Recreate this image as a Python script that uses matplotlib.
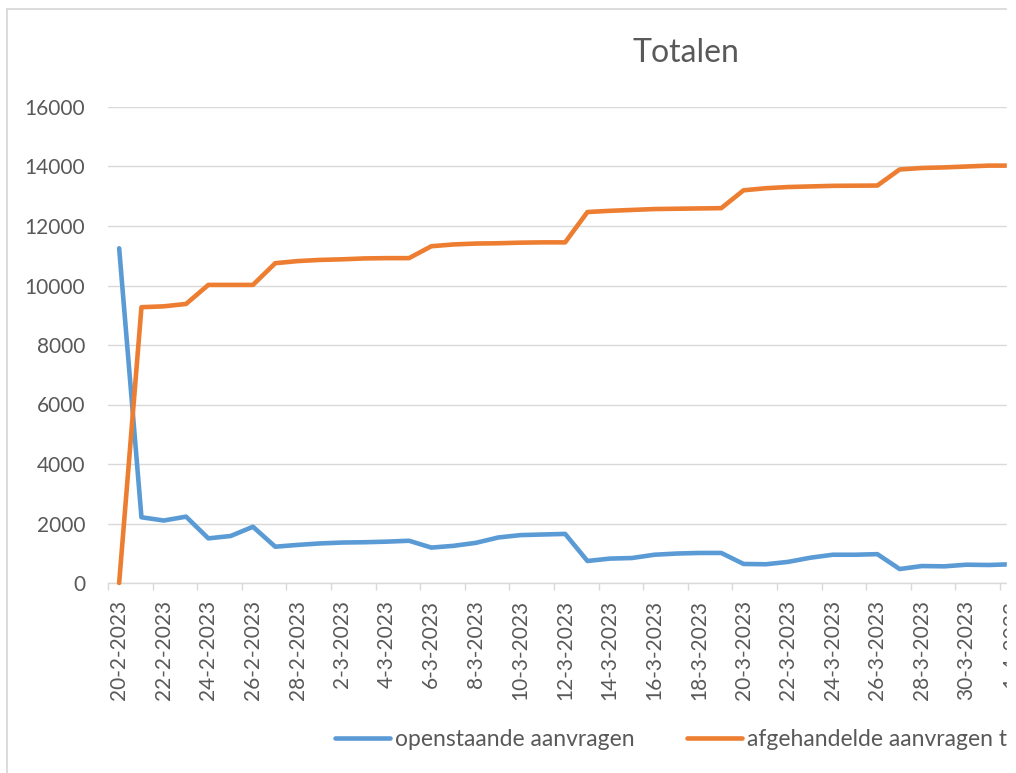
import matplotlib
matplotlib.use("Agg")
import matplotlib.pyplot as plt
import pandas as pd
from matplotlib.lines import Line2D
from matplotlib.patches import Rectangle

plt.rcParams["font.family"] = ["Lato", "DejaVu Sans"]

# categories: one per day
dates = pd.date_range("2023-02-20", "2023-04-01", freq="D")
date_labels = [f"{d.day}-{d.month}-{d.year}" for d in dates]

openstaand = [11250, 2210, 2100, 2230, 1500, 1580, 1890, 1220, 1280, 1330,
              1360, 1370, 1390, 1420, 1190, 1250, 1350, 1530, 1610, 1630,
              1650, 740, 820, 840, 950, 990, 1010, 1010, 640, 630,
              710, 850, 950, 950, 970, 470, 570, 560, 615, 605,
              630]
afgehandeld = [0, 9270, 9300, 9380, 10020, 10020, 10020, 10750, 10820, 10860,
               10880, 10910, 10920, 10920, 11320, 11380, 11410, 11420, 11440, 11450,
               11450, 12470, 12510, 12540, 12570, 12580, 12590, 12600, 13200, 13270,
               13310, 13330, 13350, 13355, 13360, 13900, 13950, 13970, 14000, 14030,
               14030]

series_names = ["openstaande aanvragen", "afgehandelde aanvragen totaal"]
y_ticks = list(range(0, 16001, 2000))

TEXT = "#595959"
GRID = "#d9d9d9"
W, H = 1016, 773
step = 22.3  # pixels per category

fig = plt.figure(figsize=(W / 100, H / 100), dpi=100)
ax = fig.add_axes([108 / W, 1 - 583 / H, (W - 108) / W, (583 - 107) / H])

x = list(range(len(dates)))
ax.plot(x, openstaand, color="#5B9BD5", lw=3.3, solid_capstyle="round",
        solid_joinstyle="round", clip_on=False, label=series_names[0], zorder=3)
ax.plot(x, afgehandeld, color="#ED7D31", lw=3.3, solid_capstyle="round",
        solid_joinstyle="round", clip_on=False, label=series_names[1], zorder=3)

ax.set_ylim(0, 16000)
ax.set_xlim(-0.5, -0.5 + (W - 108) / step)
ax.set_yticks(y_ticks)
ax.grid(axis="y", color=GRID, lw=1)
ax.set_axisbelow(True)
for s in ["left", "right", "top"]:
    ax.spines[s].set_visible(False)
ax.spines["bottom"].set_color(GRID)
ax.spines["bottom"].set_linewidth(1)

ax.set_xticks(x[::2])
ax.set_xticklabels(date_labels[::2], rotation=90)
ax.set_xticks([i - 0.5 for i in range(0, len(dates) + 1, 2)], minor=True)
ax.tick_params(axis="x", which="major", length=0, pad=12, labelsize=15, labelcolor=TEXT)
ax.tick_params(axis="x", which="minor", length=5, color=GRID, width=1)
ax.tick_params(axis="y", length=0, pad=16.5, labelsize=15, labelcolor=TEXT)

fig.legend(loc="center left", bbox_to_anchor=(335 / W, 1 - 740 / H), ncol=2,
           frameon=False, fontsize=16.5, labelcolor=TEXT, handlelength=2.4,
           handletextpad=0.22, columnspacing=2.27, borderpad=0, borderaxespad=0)

fig.text(686 / W, 1 - 53 / H, "Totalen", ha="center", va="center",
         fontsize=23, color=TEXT)

# chart border (left and top visible) and cropped right edge
fig.add_artist(Line2D([7 / W, 7 / W], [0, 1 - 9 / H], color=GRID, lw=1.3,
                      transform=fig.transFigure))
fig.add_artist(Line2D([7 / W, 1], [1 - 9 / H, 1 - 9 / H], color=GRID, lw=1.3,
                      transform=fig.transFigure))
fig.add_artist(Rectangle((1007 / W, 0), 9 / W, 1, transform=fig.transFigure,
                         color="white", zorder=10))

fig.savefig("out.png", dpi=100)
